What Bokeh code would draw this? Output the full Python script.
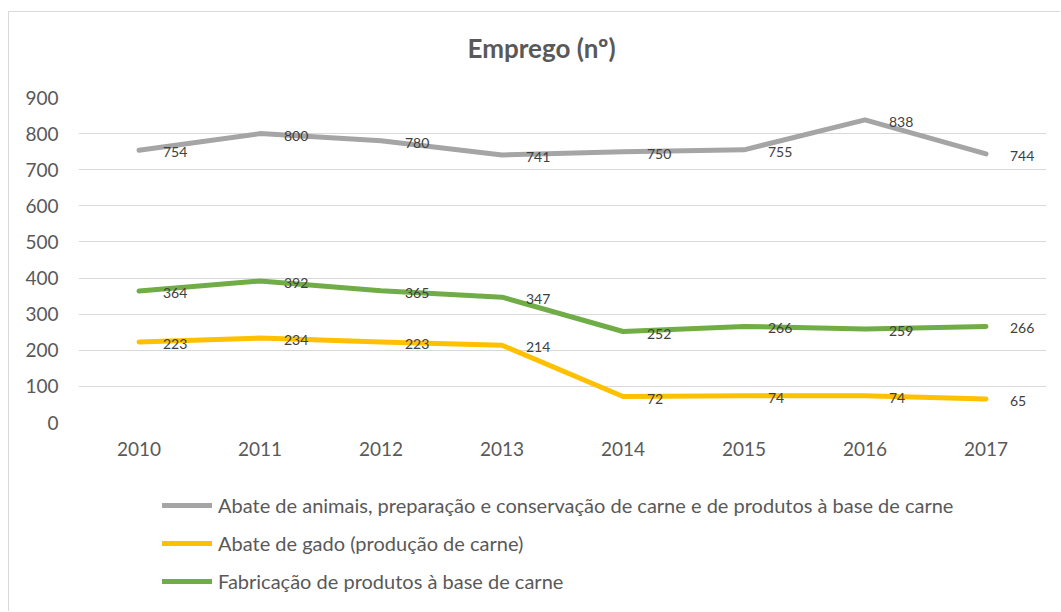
from bokeh.plotting import figure
from bokeh.models import (FactorRange, Range1d, FixedTicker, ColumnDataSource, LabelSet,
                          Legend, LegendItem, Title)
from bokeh.layouts import column
from bokeh.core.properties import value
from bokeh.embed import file_html
from bokeh.resources import INLINE

years = ["2010", "2011", "2012", "2013", "2014", "2015", "2016", "2017"]
abate_animais = [754, 800, 780, 741, 750, 755, 838, 744]
abate_gado = [223, 234, 223, 214, 72, 74, 74, 65]
fabricacao = [364, 392, 365, 347, 252, 266, 259, 266]
y_ticks = [0, 100, 200, 300, 400, 500, 600, 700, 800, 900]

series_names = [
    "Abate de animais, preparação e conservação de carne e de produtos à base de carne",
    "Abate de gado (produção de carne)",
    "Fabricação de produtos à base de carne",
]
series_values = [abate_animais, abate_gado, fabricacao]
colors = ["#A5A5A5", "#FFC000", "#70AD47"]

FONT = "Lato"
W = 1051

p = figure(width=W, height=458, x_range=FactorRange(*years), y_range=Range1d(0, 900),
           output_backend="svg", toolbar_location=None,
           min_border_left=69, min_border_right=14, min_border_top=85, min_border_bottom=48)
p.outline_line_color = None
p.background_fill_color = "white"
p.border_fill_color = "white"

# spacer between title and plot area, then the title itself
p.add_layout(Title(text=" ", text_font_size="1px", standoff=26), "above")
p.add_layout(Title(text="Emprego (nº)", align="left", offset=389, standoff=10,
                   text_font=FONT, text_font_size="26px", text_font_style="bold",
                   text_color="#595959"), "above")

p.xgrid.grid_line_color = None
p.ygrid.grid_line_color = "#D9D9D9"
p.ygrid.grid_line_width = 1

p.yaxis.ticker = FixedTicker(ticks=y_ticks)
for ax in (p.xaxis, p.yaxis):
    ax.axis_line_color = None
    ax.major_tick_line_color = None
    ax.minor_tick_line_color = None
    ax.major_tick_out = 0
    ax.major_tick_in = 0
    ax.minor_tick_out = 0
    ax.major_label_text_font = FONT
    ax.major_label_text_font_size = "19px"
    ax.major_label_text_color = "#595959"
p.yaxis.major_label_standoff = 20
p.xaxis.major_label_standoff = 19

sources = []
for name, vals, col in zip(series_names, series_values, colors):
    src = ColumnDataSource(dict(x=years, y=vals, t=[str(v) for v in vals]))
    sources.append(src)
    p.line("x", "y", source=src, line_color=col, line_width=5,
           line_cap="round", line_join="round")
    labels = LabelSet(x="x", y="y", text="t", source=src, x_offset=24, y_offset=-2,
                      text_align="left", text_baseline="middle",
                      text_font=value(FONT), text_font_size=value("14px"),
                      text_color="#404040")
    p.add_layout(labels)

# legend area below the chart (its frame is aligned with the chart frame);
# the series are re-plotted here outside the visible range only to feed the legend
pl = figure(width=W, height=141, x_range=FactorRange(*years), y_range=Range1d(1000, 1001),
            output_backend="svg", toolbar_location=None,
            x_axis_type=None, y_axis_type=None,
            min_border_left=0, min_border_right=0, min_border_top=0, min_border_bottom=0)
pl.outline_line_color = None
pl.xgrid.visible = False
pl.ygrid.visible = False
items = []
for name, src, col in zip(series_names, sources, colors):
    r = pl.line("x", "y", source=src, line_color=col, line_width=5, line_cap="round")
    items.append(LegendItem(label=name, renderers=[r]))
legend = Legend(items=items, location=(84, 18), orientation="vertical",
                glyph_width=50, glyph_height=24, label_height=24,
                spacing=14, label_standoff=6, padding=0, margin=0,
                border_line_color=None, background_fill_alpha=0,
                label_text_font=FONT, label_text_font_size="20px",
                label_text_color="#595959")
pl.add_layout(legend, "center")

layout = column(p, pl, spacing=0,
                styles={"margin-left": "8px", "margin-top": "11px",
                        "border-left": "1px solid #D9D9D9", "border-top": "1px solid #D9D9D9"})

open("out.html", "w").write(file_html(layout, INLINE))
